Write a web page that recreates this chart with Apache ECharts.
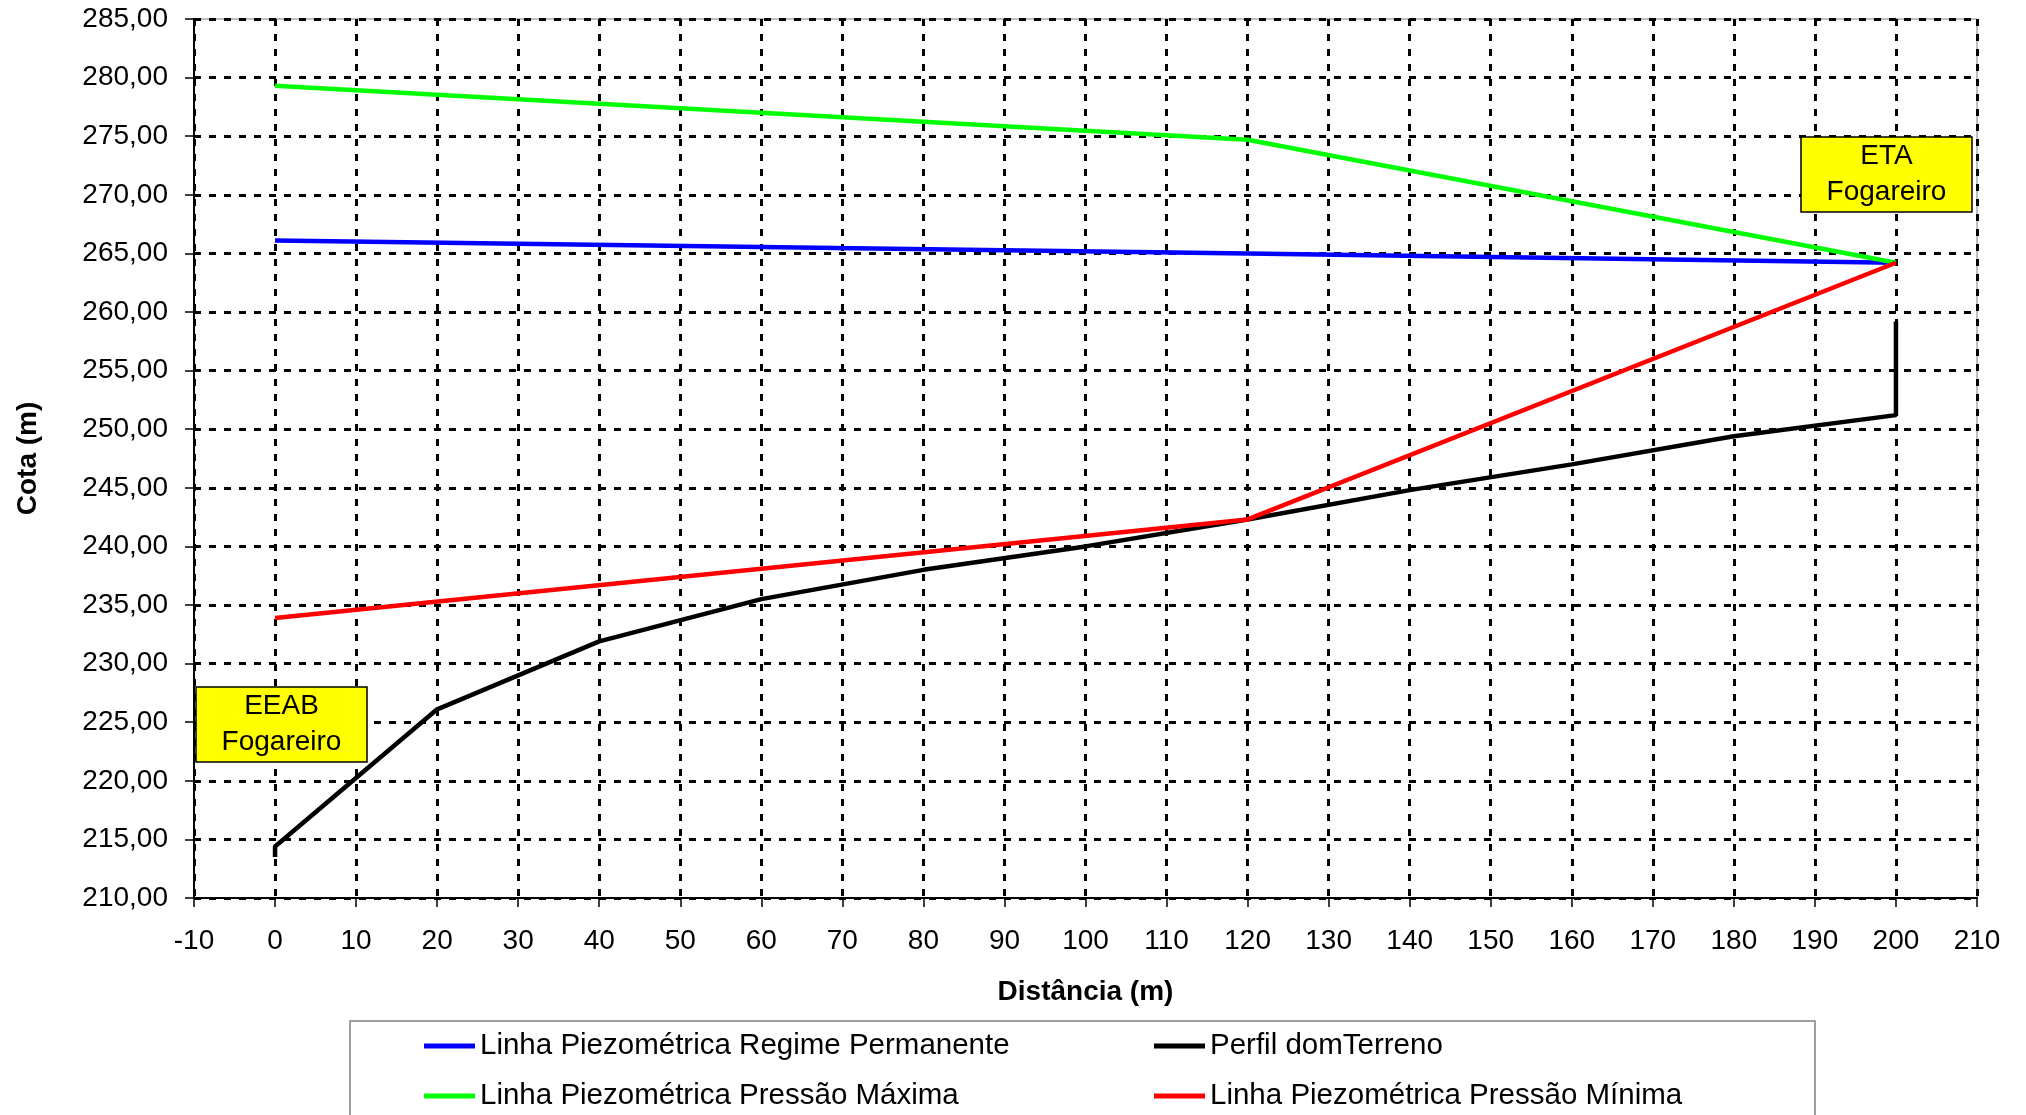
<!DOCTYPE html>
<html>
<head>
<meta charset="utf-8">
<script src="https://cdn.jsdelivr.net/npm/echarts@6/dist/echarts.min.js"></script>
<style>
  html, body { margin: 0; padding: 0; background: #fff; }
  #chart { width: 2026px; height: 1115px; }
</style>
</head>
<body>
<div id="chart"></div>
<script>
// distancias (m) e cotas (m) de cada linha
const distPermanente = [0, 120, 200];
const cotaPermanente = [266.1, 265.0, 264.2];

const distTerreno = [0, 0, 20, 40, 60, 80, 100, 120, 140, 160, 180, 200, 200];
const cotaTerreno = [213.5, 214.4, 226.1, 231.9, 235.5, 238.0, 240.0, 242.3, 244.8, 247.0, 249.4, 251.2, 259.2];

const distMaxima = [0, 120, 200];
const cotaMaxima = [279.3, 274.7, 264.2];

const distMinima = [0, 120, 200];
const cotaMinima = [233.9, 242.3, 264.2];

const nomes = [
  'Linha Piezométrica Regime Permanente',
  'Perfil domTerreno',
  'Linha Piezométrica Pressão Máxima',
  'Linha Piezométrica Pressão Mínima'
];
const cores = ['#0000ff', '#000000', '#00ff00', '#ff0000'];

const FONT = "Arial, 'Liberation Sans', sans-serif";

function pares (xs, ys) {
  return xs.map(function (x, i) { return [x, ys[i]]; });
}

function serie (idx, xs, ys) {
  return {
    name: nomes[idx],
    type: 'line',
    data: pares(xs, ys),
    symbol: 'none',
    color: cores[idx],
    lineStyle: { width: 4.5, color: cores[idx] },
    animation: false
  };
}

function caixa (x, y, w, h, texto) {
  return {
    type: 'group',
    children: [
      {
        type: 'rect',
        shape: { x: x, y: y, width: w, height: h },
        style: { fill: '#ffff00', stroke: '#000', lineWidth: 1.5 },
        z: 100
      },
      {
        type: 'text',
        x: x + w / 2,
        y: y + h / 2,
        style: {
          text: texto,
          font: '28px ' + FONT,
          fill: '#000',
          align: 'center',
          verticalAlign: 'middle',
          lineHeight: 36
        },
        z: 101
      }
    ]
  };
}

const chart = echarts.init(document.getElementById('chart'));
const splitStyle = { color: '#000', width: 3, type: [7, 8] };
const legendText = { fontFamily: FONT, fontSize: 29.5, color: '#000' };

chart.setOption({
  backgroundColor: '#fff',
  animation: false,
  grid: {
    left: 194,
    right: 49,
    top: 19,
    bottom: 217,
    show: true,
    borderColor: '#808080',
    borderWidth: 1
  },
  xAxis: {
    type: 'value',
    min: -10,
    max: 210,
    interval: 10,
    name: 'Distância (m)',
    nameLocation: 'middle',
    nameGap: 80,
    nameTextStyle: { fontFamily: FONT, fontSize: 28, fontWeight: 'bold', color: '#000' },
    axisLine: { onZero: false, lineStyle: { color: '#000', width: 2 } },
    axisTick: { length: 9, lineStyle: { color: '#000', width: 1.5 } },
    axisLabel: { margin: 29, fontFamily: FONT, fontSize: 28, color: '#000' },
    splitLine: { show: true, lineStyle: splitStyle }
  },
  yAxis: {
    type: 'value',
    min: 210,
    max: 285,
    interval: 5,
    name: 'Cota (m)',
    nameLocation: 'middle',
    nameGap: 152,
    nameTextStyle: { fontFamily: FONT, fontSize: 28, fontWeight: 'bold', color: '#000' },
    axisLine: { show: true, onZero: false, lineStyle: { color: '#000', width: 2 } },
    axisTick: { show: true, length: 9, lineStyle: { color: '#000', width: 1.5 } },
    axisLabel: {
      margin: 26,
      fontFamily: FONT,
      fontSize: 28,
      color: '#000',
      formatter: function (v) { return v.toFixed(2).replace('.', ','); }
    },
    splitLine: { show: true, lineStyle: splitStyle }
  },
  legend: [
    {
      data: [nomes[0], nomes[2]],
      orient: 'vertical',
      left: 424,
      top: 1031,
      padding: 0,
      itemGap: 20,
      itemWidth: 51,
      itemHeight: 5,
      icon: 'rect',
      textStyle: legendText
    },
    {
      data: [nomes[1], nomes[3]],
      orient: 'vertical',
      left: 1154,
      top: 1031,
      padding: 0,
      itemGap: 20,
      itemWidth: 51,
      itemHeight: 5,
      icon: 'rect',
      textStyle: legendText
    }
  ],
  graphic: [
    {
      type: 'rect',
      shape: { x: 350, y: 1021, width: 1465, height: 130 },
      style: { fill: 'none', stroke: '#808080', lineWidth: 1.5 },
      z: 0
    },
    caixa(196, 687, 171, 75, 'EEAB\nFogareiro'),
    caixa(1801, 137, 171, 75, 'ETA\nFogareiro')
  ],
  series: [
    serie(0, distPermanente, cotaPermanente),
    serie(1, distTerreno, cotaTerreno),
    serie(2, distMaxima, cotaMaxima),
    serie(3, distMinima, cotaMinima)
  ]
});
</script>
</body>
</html>
